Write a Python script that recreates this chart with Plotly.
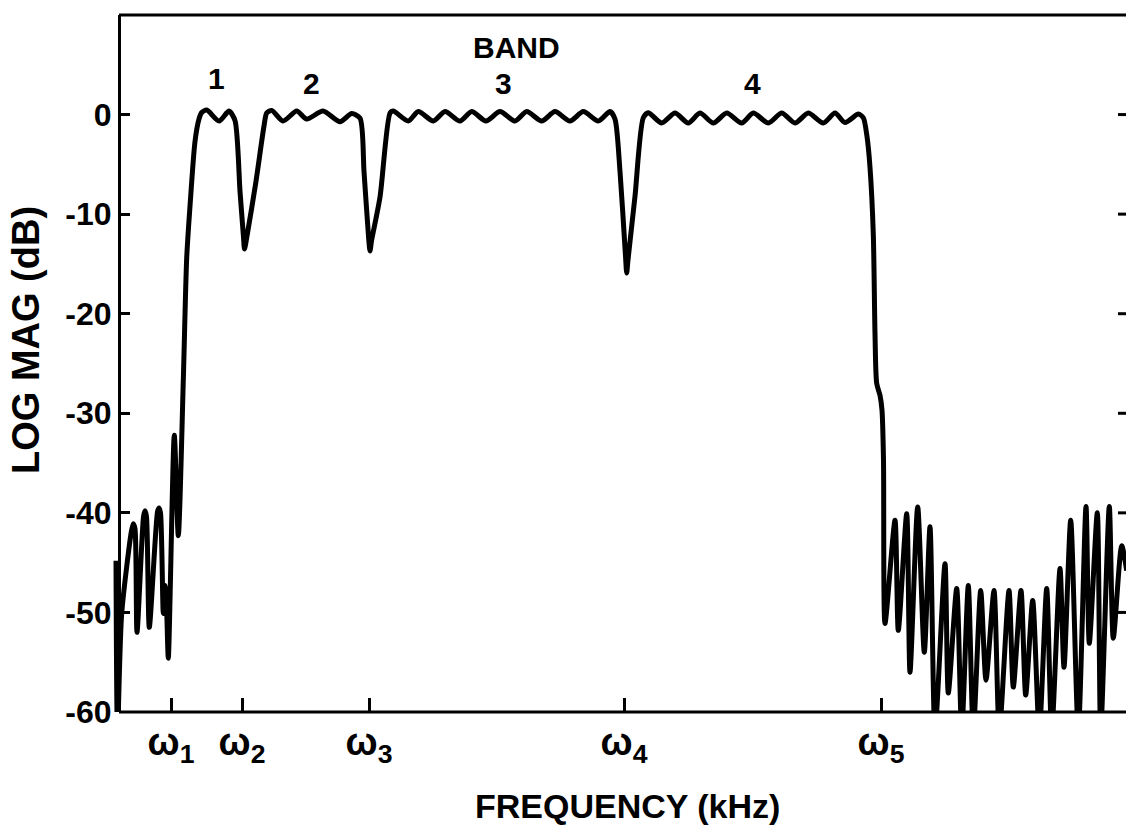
import plotly.graph_objects as go

# ---------------- data ----------------
freq_khz = [
    -0.3, -0.15, 0.27, 1.25, 1.43, 1.6, 1.8, 2.45, 2.6, 2.75, 3.03, 3.85, 4.0, 4.15,
    4.43, 4.6, 4.75, 4.93, 5.53, 5.93, 6.43, 6.77, 7.1, 7.6, 8.0, 8.27, 8.77,
    10.0, 11.0, 11.6, 12.1, 12.45, 12.55, 12.75, 13.7, 14.5, 14.77, 15.27,
    16.4, 17.77, 18.77, 20.4, 22.1, 23.27, 24.1, 24.5, 24.97, 25.1, 25.25, 26.1, 27.1, 27.43,
    28.93, 29.93, 31.43, 32.6, 34.1, 35.27, 36.7, 38.1, 39.6, 40.77, 42.27, 43.6,
    45.1, 46.43, 47.93, 49.1, 49.6, 50.1, 50.65, 50.77, 50.9, 51.6, 52.43, 52.93,
    54.27, 55.6, 56.93, 58.1, 59.43, 60.77, 62.27, 63.43, 64.93, 66.27, 67.6, 68.93,
    70.43, 71.6, 72.6, 73.93, 74.43, 74.8, 75.1, 75.43, 75.6, 75.77, 76.1, 76.3,
    76.45, 76.6,
    77.6, 77.93, 78.77, 79.1, 79.87, 80.53, 81.1, 81.6, 82.6, 82.93, 83.77, 84.27,
    84.93, 85.43, 86.17, 86.7, 87.5, 88.03, 89.0, 89.43, 90.2, 90.67, 91.37, 92.03,
    92.77, 93.27, 94.1, 94.5, 95.17, 95.93, 96.7, 97.03, 97.83, 98.17, 99.03, 99.43,
    100.27, 100.77,
]
mag_db = [
    -44.8, -62.0, -50.1, -41.8, -41.1, -41.6, -52.0, -40.4, -39.8, -40.4, -51.5, -39.9, -39.5, -40.0,
    -50.1, -47.3, -49.3, -54.6, -32.2, -42.3, -26.7, -14.4, -9.2, -2.7, -0.45, 0.2, 0.45,
    -0.65, 0.35, -0.6, -7.7, -12.3, -13.5, -12.5, -6.7, -1.15, 0.15, 0.42,
    -0.65, 0.35, -0.45, 0.35, -0.72, 0.1, -0.35, -5.7, -12.5, -13.7, -12.7, -8.3, 0.15, 0.35,
    -0.65, 0.3, -0.65, 0.3, -0.65, 0.3, -0.65, 0.3, -0.65, 0.3, -0.65, 0.3,
    -0.65, 0.3, -0.65, 0.3, -0.45, -5.7, -14.2, -15.9, -14.6, -8.2, -0.32, 0.18,
    -0.85, 0.15, -0.85, 0.15, -0.85, 0.15, -0.85, 0.15, -0.85, 0.15, -0.85, 0.15,
    -0.85, 0.15, -0.8, 0.05, -0.32, -2.2, -5.3, -12.0, -22.0, -27.0, -28.2, -29.7,
    -34.7, -51.1,
    -40.75, -51.8, -40.1, -56.0, -39.4, -54.0, -41.4, -62.0, -45.1, -58.1, -47.6, -62.0,
    -47.3, -62.0, -47.8, -56.8, -47.8, -62.0, -47.8, -57.5, -47.8, -58.3, -48.8, -62.0,
    -47.6, -62.0, -45.6, -55.5, -40.75, -62.0, -39.35, -53.1, -40.0, -62.0, -39.35, -52.6,
    -43.3, -45.8,
]

x_tick_vals = [5.2, 12.3, 25.0, 50.5, 76.2]
x_tick_text = ["ω<sub>1</sub>", "ω<sub>2</sub>", "ω<sub>3</sub>", "ω<sub>4</sub>", "ω<sub>5</sub>"]
y_tick_vals = [10, 0, -10, -20, -30, -40, -50, -60]
y_tick_text = ["10", "0", "-10", "-20", "-30", "-40", "-50", "-60"]
right_tick_vals = [0, -10, -20, -30, -40, -50]

band_labels = ["1", "2", "3", "4"]
band_label_freq = [9.7, 19.2, 38.4, 63.3]
band_label_db = [3.6, 3.1, 3.1, 3.1]

# ---------------- layout geometry ----------------
W, H = 1126, 831
PL, PR, PT, PB = 112, 1126, 15, 712
axis_px = 119
ax_pos = (axis_px - PL) / (PR - PL)

FONT = "Liberation Sans, Arial, sans-serif"

fig = go.Figure()
fig.add_trace(go.Scatter(
    x=freq_khz, y=mag_db, mode="lines",
    line=dict(color="black", width=5, shape="spline", smoothing=0.7),
    hoverinfo="skip", showlegend=False,
))

shapes = [
    dict(type="line", xref="paper", yref="paper", x0=ax_pos, x1=1, y0=0, y1=0,
         line=dict(color="black", width=3)),
    dict(type="line", xref="paper", yref="paper", x0=ax_pos, x1=1, y0=1, y1=1,
         line=dict(color="black", width=3)),
]
rt0 = (1118 - PL) / (PR - PL)
for v in right_tick_vals:
    shapes.append(dict(type="line", xref="paper", yref="y", x0=rt0, x1=1, y0=v, y1=v,
                       line=dict(color="black", width=3)))

annotations = [
    dict(text="BAND", x=39.77, y=6.7, xref="x", yref="y", showarrow=False,
         font=dict(family=FONT, size=30, weight="bold", color="black")),
    dict(text="LOG MAG (dB)", xref="paper", yref="paper",
         x=(26 - PL) / (PR - PL), y=(PB - 340) / (PB - PT), textangle=-90,
         showarrow=False, xanchor="center", yanchor="middle",
         font=dict(family=FONT, size=38, weight="bold", color="black")),
    dict(text="FREQUENCY (kHz)", xref="paper", yref="paper",
         x=(627 - PL) / (PR - PL), y=(PB - 806) / (PB - PT),
         showarrow=False, xanchor="center", yanchor="middle",
         font=dict(family=FONT, size=34, weight="bold", color="black")),
]
for t, fx, fy in zip(band_labels, band_label_freq, band_label_db):
    annotations.append(dict(text=t, x=fx, y=fy, xref="x", yref="y", showarrow=False,
                            font=dict(family=FONT, size=30, weight="bold", color="black")))

fig.update_layout(
    width=W, height=H,
    margin=dict(l=PL, r=W - PR, t=PT, b=H - PB, pad=0),
    paper_bgcolor="white", plot_bgcolor="white",
    showlegend=False,
    font=dict(family=FONT, color="black"),
    xaxis=dict(
        range=[(PL - axis_px) / 10.0, (PR - axis_px) / 10.0],
        showgrid=False, zeroline=False, showline=False,
        ticks="inside", ticklen=14, tickwidth=3, tickcolor="black",
        tickmode="array", tickvals=x_tick_vals, ticktext=x_tick_text,
        tickfont=dict(family=FONT, size=38, weight="bold", color="black"),
        ticklabelstandoff=4,
        fixedrange=True,
    ),
    yaxis=dict(
        range=[-60, 10], anchor="free", position=ax_pos,
        showgrid=False, zeroline=False,
        showline=True, linewidth=3, linecolor="black",
        ticks="inside", ticklen=9, tickwidth=3, tickcolor="black",
        tickmode="array", tickvals=y_tick_vals, ticktext=y_tick_text,
        tickfont=dict(family=FONT, size=32, weight="bold", color="black"),
        fixedrange=True,
    ),
    shapes=shapes,
    annotations=annotations,
)

fig.write_html("out.html")
